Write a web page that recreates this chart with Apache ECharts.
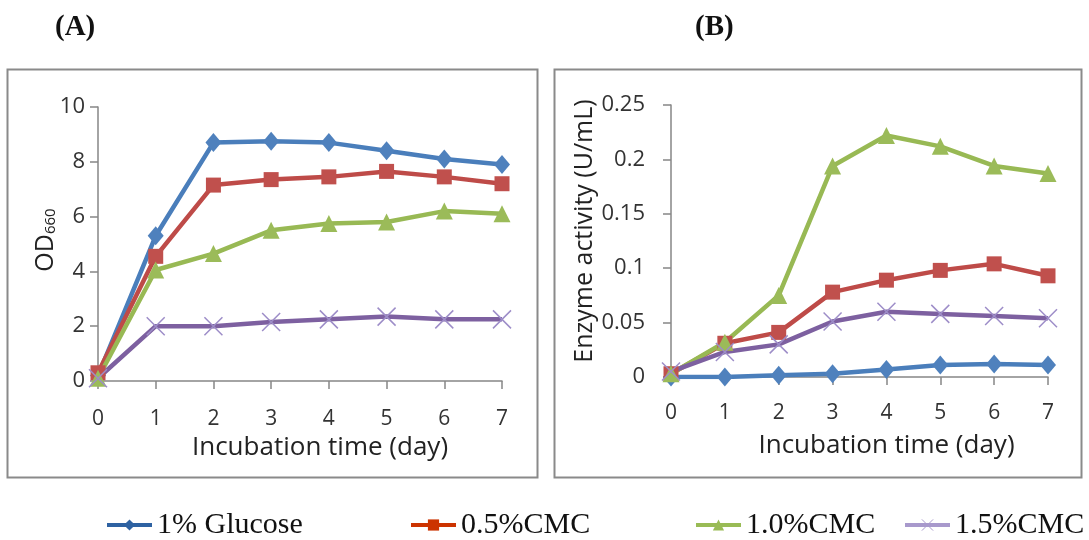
<!DOCTYPE html>
<html>
<head>
<meta charset="utf-8">
<script src="https://cdn.jsdelivr.net/npm/echarts@6/dist/echarts.min.js"></script>
<style>
  html, body { margin: 0; padding: 0; background: #fff; }
  #growth-chart { width: 1089px; height: 540px; }
</style>
</head>
<body>
<div id="growth-chart"></div>
<script>
// incubation days (x categories, shared by both panels)
const days = ['0', '1', '2', '3', '4', '5', '6', '7']
const seriesNames = ['1% Glucose', '0.5%CMC', '1.0%CMC', '1.5%CMC']

// (A) OD660
const odGlucose = [0.2, 5.3, 8.7, 8.75, 8.7, 8.4, 8.1, 7.9]
const odCmc05 = [0.3, 4.55, 7.15, 7.35, 7.45, 7.65, 7.45, 7.2]
const odCmc10 = [0.1, 4.05, 4.65, 5.5, 5.75, 5.8, 6.2, 6.1]
const odCmc15 = [0.1, 2.0, 2.0, 2.15, 2.25, 2.35, 2.25, 2.25]

// (B) enzyme activity (U/mL)
const enzGlucose = [0, 0, 0.0015, 0.003, 0.007, 0.011, 0.012, 0.011]
const enzCmc05 = [0.003, 0.031, 0.041, 0.078, 0.089, 0.098, 0.104, 0.093]
const enzCmc10 = [0.003, 0.032, 0.075, 0.194, 0.222, 0.212, 0.194, 0.187]
const enzCmc15 = [0.005, 0.023, 0.03, 0.051, 0.06, 0.058, 0.056, 0.054]

const odTicks = { min: 0, max: 10, interval: 2 }
const enzTicks = { min: 0, max: 0.25, interval: 0.05 }

const sansFont = '"Open Sans", "DejaVu Sans", sans-serif'
const serifFont = '"Liberation Serif", "DejaVu Serif", serif'
const axisGray = '#868686'

// per series look: line colour, marker, marker colour, legend colour
const looks = [
  { line: '#4A7EBB', symbol: 'diamond', size: [16, 19], mark: '#4F81BD', legend: '#2E62A2' },
  { line: '#BE4B48', symbol: 'rect', size: 15, mark: '#C0504D', legend: '#CC3300' },
  { line: '#98B954', symbol: 'triangle', size: 17, mark: '#9BBB59', legend: '#99BB55' },
  { line: '#7D60A0', symbol: 'path://M0 0L10 10M10 0L0 10', size: 18, mark: '#9D8DC8', legend: '#A899CC', cross: true }
]

function makeSeries(name, data, look, gridIdx) {
  return {
    name: name,
    type: 'line',
    xAxisIndex: gridIdx,
    yAxisIndex: gridIdx,
    data: data,
    symbol: look.symbol,
    symbolSize: look.size,
    showAllSymbol: true,
    lineStyle: { color: look.line, width: 4.5 },
    itemStyle: look.cross
      ? { color: look.mark, borderColor: look.mark, borderWidth: 1.5, opacity: 1 }
      : { color: look.mark, borderWidth: 0 },
    emphasis: { disabled: true },
    animation: false
  }
}

function makeXAxis(gridIdx, nameShift) {
  return {
    type: 'category',
    gridIndex: gridIdx,
    data: days,
    boundaryGap: false,
    axisLine: { lineStyle: { color: axisGray, width: 1.5 } },
    axisTick: { show: true, alignWithLabel: true, length: 8, lineStyle: { color: axisGray, width: 1.5 } },
    axisLabel: { interval: 0, margin: gridIdx === 0 ? 28 : 26, color: '#333', fontFamily: sansFont, fontSize: 21 },
    splitLine: { show: false },
    name: 'Incubation time (day)',
    nameLocation: 'middle',
    nameGap: gridIdx === 0 ? 52 : 56,
    nameTextStyle: { color: '#222', fontFamily: sansFont, fontSize: 26, padding: [0, 0, 0, nameShift] }
  }
}

function makeYAxis(gridIdx, ticks, extra) {
  return Object.assign({
    type: 'value',
    gridIndex: gridIdx,
    min: ticks.min,
    max: ticks.max,
    interval: ticks.interval,
    axisLine: { show: true, lineStyle: { color: axisGray, width: 1.5 } },
    axisTick: { show: true, length: 8, lineStyle: { color: axisGray, width: 1.5 } },
    splitLine: { show: false },
    nameLocation: 'middle',
    nameMoveOverlap: false
  }, extra)
}

const chart = echarts.init(document.getElementById('growth-chart'))

const legends = [
  { idx: 0, left: 100 },
  { idx: 1, left: 404 },
  { idx: 2, left: 689 },
  { idx: 3, left: 898 }
].map(function (l) {
  const look = looks[l.idx]
  return {
    left: l.left,
    top: 505,
    orient: 'horizontal',
    itemWidth: 45,
    itemHeight: 14,
    itemGap: 0,
    selectedMode: false,
    textStyle: { fontFamily: serifFont, fontSize: 30, color: '#111' },
    data: [{
      name: seriesNames[l.idx],
      itemStyle: look.cross
        ? { color: look.legend, borderColor: look.legend, borderWidth: 1 }
        : { color: look.legend },
      lineStyle: { color: look.legend, width: 4 }
    }]
  }
})

const option = {
  backgroundColor: '#fff',
  animation: false,
  title: [
    { text: '(A)', left: 50, top: 8, textStyle: { fontFamily: serifFont, fontWeight: 'bold', fontSize: 29, color: '#111' } },
    { text: '(B)', left: 690, top: 8, textStyle: { fontFamily: serifFont, fontWeight: 'bold', fontSize: 29, color: '#111' } }
  ],
  legend: legends,
  graphic: [
    { type: 'rect', shape: { x: 7.5, y: 69.5, width: 530, height: 408 }, style: { fill: 'none', stroke: '#8A8A8A', lineWidth: 2 }, silent: true },
    { type: 'rect', shape: { x: 554.5, y: 69.5, width: 527, height: 408 }, style: { fill: 'none', stroke: '#8A8A8A', lineWidth: 2 }, silent: true }
  ],
  grid: [
    { left: 98, top: 107, width: 404, height: 274, outerBoundsMode: 'none' },
    { left: 671, top: 105, width: 377, height: 272, outerBoundsMode: 'none' }
  ],
  xAxis: [makeXAxis(0, 40), makeXAxis(1, 54)],
  yAxis: [
    makeYAxis(0, odTicks, {
      axisLabel: { margin: 13, color: '#333', fontFamily: sansFont, fontSize: 22 },
      name: '{a|OD}{b|660}',
      nameGap: 40,
      nameTextStyle: {
        color: '#222',
        padding: [0, 0, 0, 8],
        rich: {
          a: { fontFamily: sansFont, fontSize: 25, lineHeight: 32, verticalAlign: 'bottom', color: '#222' },
          b: { fontFamily: sansFont, fontSize: 15, lineHeight: 32, verticalAlign: 'bottom', padding: [9, 0, 0, 0], color: '#222' }
        }
      }
    }),
    makeYAxis(1, enzTicks, {
      axisLabel: { margin: 26, color: '#333', fontFamily: sansFont, fontSize: 22 },
      name: 'Enzyme activity (U/mL)',
      nameGap: 74,
      nameTextStyle: { color: '#222', fontFamily: sansFont, fontSize: 25, padding: [0, 0, 0, 20] }
    })
  ],
  series: [
    makeSeries(seriesNames[0], odGlucose, looks[0], 0),
    makeSeries(seriesNames[1], odCmc05, looks[1], 0),
    makeSeries(seriesNames[2], odCmc10, looks[2], 0),
    makeSeries(seriesNames[3], odCmc15, looks[3], 0),
    makeSeries(seriesNames[0], enzGlucose, looks[0], 1),
    makeSeries(seriesNames[1], enzCmc05, looks[1], 1),
    makeSeries(seriesNames[2], enzCmc10, looks[2], 1),
    makeSeries(seriesNames[3], enzCmc15, looks[3], 1)
  ]
}

chart.setOption(option)
window.addEventListener('resize', function () {
  chart.resize()
})
</script>
</body>
</html>
